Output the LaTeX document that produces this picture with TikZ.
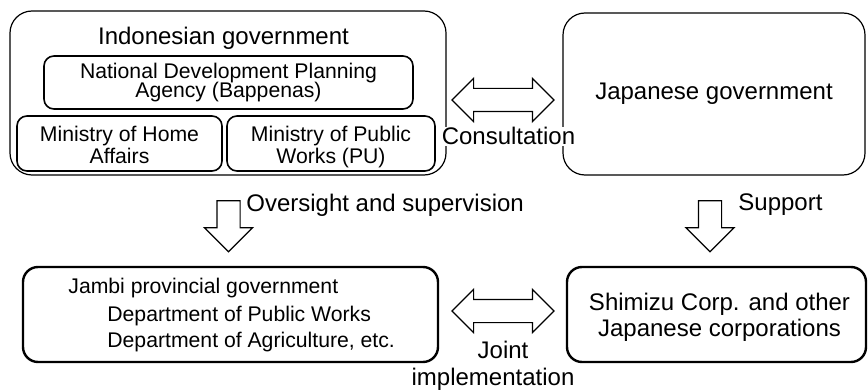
\documentclass[tikz,border=0pt]{standalone}
\usepackage{fontspec}
\setmainfont{Liberation Sans}
\usetikzlibrary{shapes.arrows}
\newcommand\tightlines{\setlength{\lineskiplimit}{-20pt}\setlength{\lineskip}{0pt}}
\newcommand\bigtext{\fontsize{12}{13}\selectfont\tightlines}
\begin{document}
\begin{tikzpicture}[x=0.5pt,y=-0.5pt,
  big/.style={font=\bigtext},
  govbox/.style={draw, line width=0.6pt, rounded corners=11pt, inner sep=0pt},
  unitbox/.style={draw, line width=0.8pt, rounded corners=5pt, inner sep=0pt, align=center},
  bodybox/.style={draw, line width=1.2pt, rounded corners=7.5pt, inner sep=0pt, align=center},
  twoway/.style={double arrow, draw, fill=white, line width=0.6pt, minimum height=51pt,
    inner sep=5.5pt, double arrow head extend=5pt},
  oneway/.style={single arrow, draw, fill=white, line width=0.6pt, shape border rotate=270,
    minimum height=25.5pt, inner sep=5.5pt, single arrow head extend=6.25pt},
]
\useasboundingbox (0,0) rectangle (868,390);

% Indonesian side
\node[govbox, minimum width=218pt, minimum height=82pt] (indo) at (228,93) {};
\node[big, anchor=base, inner sep=0pt] (indotitle) at (223.5,45) {Indonesian government};
\node[unitbox, minimum width=184.5pt, minimum height=26.5pt, text height=17pt, text depth=2.2pt,
  font=\fontsize{10.6}{9.4}\selectfont\tightlines] (bappenas) at (228.5,82.5)
  {National Development Planning\\Agency (Bappenas)};
\node[unitbox, minimum width=102.5pt, minimum height=27.5pt, text height=19.8pt, text depth=0pt,
  font=\fontsize{10.6}{11.15}\selectfont\tightlines] (home) at (119.5,143.5)
  {Ministry of Home\\Affairs};
\node[unitbox, minimum width=104pt, minimum height=27.5pt, text height=19.8pt, text depth=0pt,
  font=\fontsize{10.6}{11.15}\selectfont\tightlines] (pu) at (331,143.5)
  {Ministry of Public\\Works (PU)};

% Japanese side
\node[govbox, minimum width=151pt, minimum height=81pt, big] (japan) at (714,94)
  {Japanese government};

% Consultation
\node[twoway] (consult) at (503,100) {};
\node[big, anchor=base, inner sep=0.5pt, fill=white] (consultlbl) at (508.5,145) {Consultation};

% Vertical flows
\node[oneway] (oversight) at (228.5,220.5) {};
\node[big, anchor=base west, inner sep=0pt] (oversightlbl) at (246,212) {Oversight and supervision};
\node[oneway] (support) at (710,220.5) {};
\node[big, anchor=base west, inner sep=0pt] (supportlbl) at (738,211) {Support};

% Implementing bodies
\node[bodybox, minimum width=207.5pt, minimum height=47.5pt] (jambi) at (230.5,314.5) {};
\begin{scope}[font=\fontsize{10.6}{13}\selectfont, every node/.style={anchor=base west, inner sep=0pt}]
  \node (jambiA) at (68,293) {Jambi provincial government};
  \node (jambiB) at (107,321.7) {Department of Public Works};
  \node (jambiC) at (107,347.7) {Department of Agriculture, etc.};
\end{scope}
\node[bodybox, minimum width=149.5pt, minimum height=47.5pt, big, text height=22.2pt, text depth=0pt]
  (shimizu) at (716.5,314.5)
  {\hspace*{3pt}Shimizu Corp. and other\\\hspace*{3pt}Japanese corporations};

% Joint implementation
\node[twoway] (joint) at (503,311) {};
\node[big, anchor=base, inner sep=0pt] (jointA) at (503,358) {Joint};
\node[big, anchor=base, inner sep=0pt] (jointB) at (493,385) {implementation};
\end{tikzpicture}
\end{document}
